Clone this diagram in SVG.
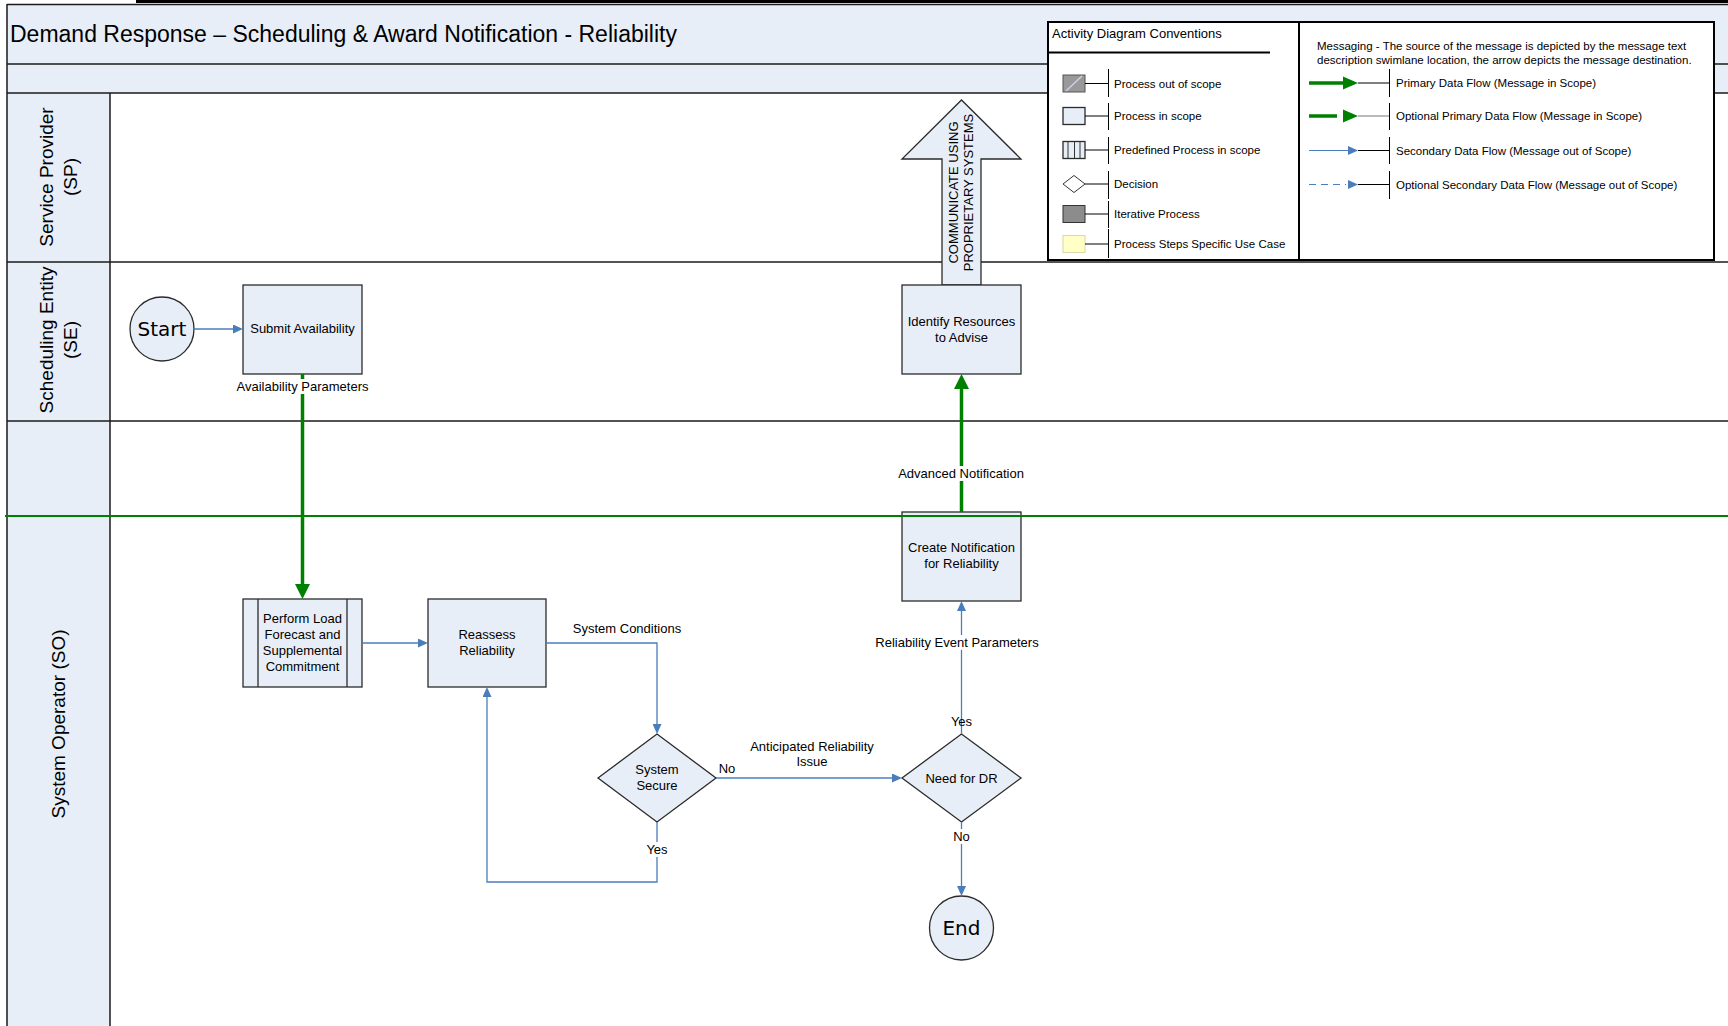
<svg xmlns="http://www.w3.org/2000/svg" width="1728" height="1026" viewBox="0 0 1728 1026">
<style>
text{font-family:"Liberation Sans",Arial,sans-serif;fill:#000}
.n{font-size:13px;text-anchor:middle}
.lbl{font-size:13px;text-anchor:middle}
.lane{font-size:19px;text-anchor:middle}
.lg{font-size:11.5px}
.ev{font-family:"DejaVu Sans",sans-serif;font-size:20px;text-anchor:middle}
.box{fill:#E8EEF7;stroke:#2b2b2b;stroke-width:1.3}
.ln{stroke:#1a1a1a;stroke-width:1.5;fill:none}
.blue{stroke:#4A7EBB;stroke-width:1.3;fill:none}
.green{stroke:#008000;stroke-width:3.5;fill:none}
.bg{fill:#fff}
.tick{stroke:#000;stroke-width:1;fill:none}
</style>
<defs>
<marker id="ab" markerUnits="userSpaceOnUse" markerWidth="10" markerHeight="9" refX="0" refY="4.5" orient="auto"><path d="M0,0 L10,4.5 L0,9 z" fill="#4A7EBB"/></marker>
<marker id="ag" markerUnits="userSpaceOnUse" markerWidth="15" markerHeight="15" refX="0" refY="7.5" orient="auto"><path d="M0,0 L15,7.5 L0,15 z" fill="#008000"/></marker>
</defs>

<g id="lanes">
<rect x="7" y="4" width="1721" height="89" fill="#E8EEF7"/>
<rect x="7" y="93" width="103" height="933" fill="#E8EEF7"/>
<rect x="110" y="93" width="1618" height="933" fill="#fff"/>
<line x1="136" y1="1.5" x2="1728" y2="1.5" stroke="#000" stroke-width="3"/>
<line x1="7" y1="4.5" x2="1728" y2="4.5" class="ln" stroke-width="1"/>
<line x1="7" y1="4" x2="7" y2="1026" class="ln"/>
<line x1="7" y1="64" x2="1728" y2="64" class="ln"/>
<line x1="7" y1="93" x2="1728" y2="93" class="ln"/>
<line x1="7" y1="262" x2="1728" y2="262" class="ln"/>
<line x1="7" y1="421" x2="1728" y2="421" class="ln"/>
<line x1="110" y1="93" x2="110" y2="1026" class="ln"/>
<text x="10" y="42" font-size="23">Demand Response – Scheduling &amp; Award Notification - Reliability</text>
<text class="lane" transform="translate(58.5,177) rotate(-90)"><tspan x="0" y="-5.5">Service Provider</tspan><tspan x="0" y="18">(SP)</tspan></text>
<text class="lane" transform="translate(58.5,340) rotate(-90)"><tspan x="0" y="-5.5">Scheduling Entity</tspan><tspan x="0" y="18">(SE)</tspan></text>
<text class="lane" transform="translate(58.5,724) rotate(-90)" y="6.5">System Operator (SO)</text>
</g>

<g id="legend">
<rect x="1048" y="22" width="251" height="238" fill="#fff" stroke="#000" stroke-width="2"/>
<rect x="1299" y="22" width="415" height="238" fill="#fff" stroke="#000" stroke-width="2"/>
<text x="1052" y="38" font-size="13">Activity Diagram Conventions</text>
<line x1="1048" y1="52.5" x2="1270" y2="52.5" stroke="#000" stroke-width="2"/>

<rect x="1063" y="75" width="22" height="17" fill="#999" stroke="#555" stroke-width="1"/>
<line x1="1066" y1="91" x2="1082" y2="76" stroke="#c8d2e4" stroke-width="1.5"/>
<path class="tick" d="M1085,83.5 H1108.5 M1108.5,69 V97"/>
<text class="lg" x="1114" y="87.5">Process out of scope</text>

<rect x="1063" y="107.5" width="22" height="17" class="box" stroke-width="1"/>
<path class="tick" d="M1085,116 H1108.5 M1108.5,103 V130"/>
<text class="lg" x="1114" y="120">Process in scope</text>

<rect x="1063" y="141.5" width="22" height="17" class="box" stroke-width="1"/>
<path d="M1068,141.5 V158.5 M1074.5,141.5 V158.5 M1080,141.5 V158.5" stroke="#333" stroke-width="1"/>
<path class="tick" d="M1085,150 H1108.5 M1108.5,137 V164"/>
<text class="lg" x="1114" y="154">Predefined Process in scope</text>

<polygon points="1063,184 1074,175.5 1085,184 1074,192.5" fill="#fff" stroke="#333" stroke-width="1"/>
<path class="tick" d="M1085,184 H1108.5 M1108.5,171 V199"/>
<text class="lg" x="1114" y="188">Decision</text>

<rect x="1063" y="205.5" width="22" height="17" fill="#8c8c8c" stroke="#333" stroke-width="1"/>
<path class="tick" d="M1085,214 H1108.5 M1108.5,201 V228"/>
<text class="lg" x="1114" y="218">Iterative Process</text>

<rect x="1063" y="235.5" width="22" height="17" fill="#FFFFC6" stroke="#d8d8a8" stroke-width="1"/>
<path class="tick" d="M1085,244 H1108.5 M1108.5,229 V258"/>
<text class="lg" x="1114" y="248">Process Steps Specific Use Case</text>

<text class="lg" x="1317" y="50">Messaging - The source of the message is depicted by the message text</text>
<text class="lg" x="1317" y="64">description swimlane location, the arrow depicts the message destination.</text>

<line x1="1309" y1="83" x2="1343" y2="83" stroke="#008000" stroke-width="3.5"/>
<polygon points="1343,76.5 1358,83 1343,89.5" fill="#008000"/>
<path class="tick" d="M1358,83 H1389.5 M1389.5,69 V97"/>
<text class="lg" x="1396" y="87">Primary Data Flow (Message in Scope)</text>

<line x1="1309" y1="116" x2="1337" y2="116" stroke="#008000" stroke-width="3.5"/>
<polygon points="1343,109.5 1358,116 1343,122.5" fill="#008000"/>
<path d="M1358,116 H1389.5" stroke="#777" stroke-width="1"/>
<path class="tick" d="M1389.5,103 V130"/>
<text class="lg" x="1396" y="120">Optional Primary Data Flow (Message in Scope)</text>

<line x1="1309" y1="150.5" x2="1348" y2="150.5" stroke="#4A7EBB" stroke-width="1.2"/>
<polygon points="1348,146 1358,150.5 1348,155" fill="#4A7EBB"/>
<path class="tick" d="M1358,150.5 H1389.5 M1389.5,137 V164"/>
<text class="lg" x="1396" y="154.5">Secondary Data Flow (Message out of Scope)</text>

<line x1="1309" y1="184.5" x2="1346" y2="184.5" stroke="#4A7EBB" stroke-width="1.2" stroke-dasharray="7,5"/>
<polygon points="1348,180 1358,184.5 1348,189" fill="#4A7EBB"/>
<path class="tick" d="M1358,184.5 H1389.5 M1389.5,171 V199"/>
<text class="lg" x="1396" y="188.5">Optional Secondary Data Flow (Message out of Scope)</text>
</g>

<g id="communicate">
<polygon points="942,285 942,159 902,159 961.5,100 1021,159 981,159 981,285" class="box"/>
<text class="n" transform="translate(961,192.5) rotate(-90)"><tspan x="0" y="-3.2">COMMUNICATE USING</tspan><tspan x="0" y="12.2">PROPRIETARY SYSTEMS</tspan></text>
</g>

<g id="start">
<circle cx="162" cy="329" r="32" class="box"/>
<text class="ev" x="162" y="336">Start</text>
</g>

<g id="submit-availability">
<rect x="243" y="285" width="119" height="89" class="box"/>
<text class="n" x="302.5" y="333">Submit Availability</text>
</g>

<g id="identify-resources">
<rect x="902" y="285" width="119" height="89" class="box"/>
<text class="n" x="961.5" y="325.5">Identify Resources</text>
<text class="n" x="961.5" y="341.5">to Advise</text>
</g>

<g id="perform-load">
<rect x="243" y="599" width="119" height="88" class="box"/>
<path d="M258,599 V687 M347,599 V687" stroke="#2b2b2b" stroke-width="1.3"/>
<text class="n" x="302.5" y="622.5">Perform Load</text>
<text class="n" x="302.5" y="638.5">Forecast and</text>
<text class="n" x="302.5" y="654.5">Supplemental</text>
<text class="n" x="302.5" y="670.5">Commitment</text>
</g>

<g id="reassess">
<rect x="428" y="599" width="118" height="88" class="box"/>
<text class="n" x="487" y="638.5">Reassess</text>
<text class="n" x="487" y="654.5">Reliability</text>
</g>

<g id="system-secure">
<polygon points="598,778 657,734 716,778 657,822" class="box"/>
<text class="n" x="657" y="773.5">System</text>
<text class="n" x="657" y="789.5">Secure</text>
</g>

<g id="need-for-dr">
<polygon points="902,778 961.5,734 1021,778 961.5,822" class="box"/>
<text class="n" x="961.5" y="782.5">Need for DR</text>
</g>

<g id="create-notification">
<rect x="902" y="512" width="119" height="89" class="box"/>
<text class="n" x="961.5" y="551.5">Create Notification</text>
<text class="n" x="961.5" y="567.5">for Reliability</text>
</g>

<g id="end">
<circle cx="961.5" cy="928" r="32" class="box"/>
<text class="ev" x="961.5" y="935">End</text>
</g>

<g id="connectors">
<path class="blue" d="M194,329 H233" marker-end="url(#ab)"/>
<path class="green" d="M302.5,374 V584" marker-end="url(#ag)"/>
<path class="blue" d="M362,643 H418" marker-end="url(#ab)"/>
<path class="blue" d="M546,643 H657 V724" marker-end="url(#ab)"/>
<path class="blue" d="M657,822 V882 H487 V697" marker-end="url(#ab)"/>
<path class="blue" d="M716,778 H892" marker-end="url(#ab)"/>
<path class="blue" d="M961.5,734 V611" marker-end="url(#ab)"/>
<path class="green" d="M961.5,512 V389" marker-end="url(#ag)"/>
<path class="blue" d="M961.5,822 V886" marker-end="url(#ab)"/>

<rect class="bg" x="234" y="379" width="137" height="15"/>
<text class="lbl" x="302.5" y="390.5">Availability Parameters</text>
<rect class="bg" x="897" y="466" width="129" height="15"/>
<text class="lbl" x="961" y="477.5">Advanced Notification</text>
<text class="lbl" x="627" y="632.5">System Conditions</text>
<rect class="bg" x="645" y="842" width="24" height="15"/>
<text class="lbl" x="657" y="853.5">Yes</text>
<text class="lbl" x="727" y="772.5">No</text>
<text class="lbl" x="812" y="750.5">Anticipated Reliability</text>
<text class="lbl" x="812" y="765.5">Issue</text>
<rect class="bg" x="874" y="635" width="167" height="15"/>
<text class="lbl" x="957" y="646.5">Reliability Event Parameters</text>
<text class="lbl" x="961.5" y="725.5">Yes</text>
<rect class="bg" x="951" y="829" width="21" height="15"/>
<text class="lbl" x="961.5" y="840.5">No</text>
</g>

<line id="so-boundary" x1="5" y1="516" x2="1728" y2="516" stroke="#008000" stroke-width="2"/>
</svg>
